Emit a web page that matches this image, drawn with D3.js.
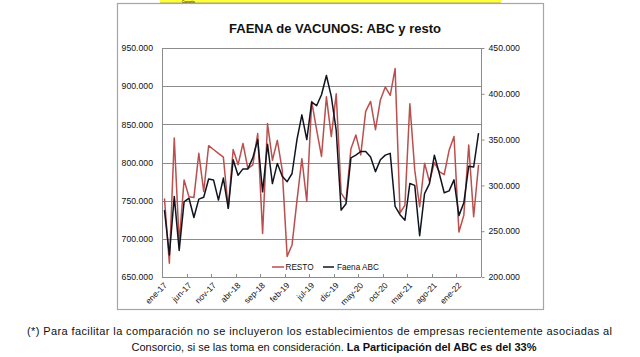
<!DOCTYPE html>
<html><head><meta charset="utf-8">
<script src="https://cdn.jsdelivr.net/npm/d3@7"></script>
<style>
html,body{margin:0;padding:0;background:#fff;}
svg{display:block;font-family:"Liberation Sans",Arial,sans-serif;}
</style></head>
<body><svg id="c" width="640" height="357"></svg>
<script>
// ---- data ----
const monthNames = ["ene","feb","mar","abr","may","jun","jul","ago","sep","oct","nov","dic"];
const startYear = 17;
const nMonths = 65; // ene-17 .. may-22
const categories = [];
for (let i = 0; i < nMonths; i++) categories.push(monthNames[i % 12] + "-" + (startYear + Math.floor(i / 12)));

// RESTO (left axis, head)
const resto = [753000,668000,832000,695000,777000,755000,754000,812000,762000,822000,
817000,812000,807000,740000,817000,797000,825000,792000,797000,838000,
707000,851000,803000,829000,790000,677000,692000,750000,805000,749000,
880000,843000,808000,886000,834000,890000,760000,750000,818000,836000,
810000,867000,880000,843000,882000,899000,888000,923000,734000,744000,
877000,790000,742000,799000,775000,800000,788000,784000,816000,834000,
709000,731000,823000,729000,797000];
// Faena ABC (right axis, head)
const abc = [273000,224000,288000,229000,282000,286000,265000,285000,287000,307000,
306000,284000,308000,275000,328000,311000,318000,318000,330000,350000,
293000,345000,302000,324000,310000,304000,313000,350000,377000,350000,
391000,387000,399000,420000,397000,360000,273000,280000,330000,333000,
337000,337000,331000,315000,328000,333000,335000,277000,268000,262000,
302000,300000,245000,291000,302000,333000,313000,292000,294000,306000,
267000,281000,321000,320000,357000];

const leftTicks = [650000,700000,750000,800000,850000,900000,950000];
const rightTicks = [200000,250000,300000,350000,400000,450000];
const title = "FAENA de VACUNOS: ABC y resto";
const seriesNames = ["RESTO","Faena ABC"];
const note1 = "(*) Para facilitar la comparación no se incluyeron los establecimientos  de empresas recientemente  asociadas al";
const note2a = "Consorcio, si se las toma en consideración. ";
const note2b = "La Participación del ABC es del 33%";

// ---- layout ----
const svg = d3.select("#c");
const fmt = v => d3.format(",")(v).replace(/,/g, ".");
const P = {l:162, r:481, t:48, b:277};
const RED = "#bb4f4d", BLK = "#10141f", GRID = "#8c8c8c";

// yellow header strip
svg.append("rect").attr("x",160).attr("y",-2).attr("width",341).attr("height",5).attr("fill","#ffff33");
svg.append("line").attr("x1",160).attr("x2",501).attr("y1",3).attr("y2",3).attr("stroke","#999").attr("stroke-width",0.8);
svg.append("text").attr("x",182).attr("y",2.6).attr("font-size",3.2).attr("font-weight","bold").attr("fill","#333").text("Consejo");

// chart box
svg.append("rect").attr("x",117.5).attr("y",3.5).attr("width",426).attr("height",306).attr("fill","none").attr("stroke","#a6a6a6").attr("stroke-width",1.2);

const x = d3.scaleBand().domain(d3.range(nMonths)).range([P.l, P.r]).paddingInner(0).paddingOuter(0);
const xc = i => x(i) + x.bandwidth()/2;
const yL = d3.scaleLinear().domain([650000,950000]).range([P.b, P.t]);
const yR = d3.scaleLinear().domain([200000,450000]).range([P.b, P.t]);

// gridlines
svg.append("g").selectAll("line").data(leftTicks).join("line")
  .attr("x1",P.l).attr("x2",P.r).attr("y1",d=>Math.round(yL(d))+0.5).attr("y2",d=>Math.round(yL(d))+0.5)
  .attr("stroke",GRID).attr("stroke-width",1);
svg.append("line").attr("x1",P.l+0.5).attr("x2",P.l+0.5).attr("y1",P.t).attr("y2",P.b).attr("stroke",GRID);
svg.append("line").attr("x1",P.r+0.5).attr("x2",P.r+0.5).attr("y1",P.t).attr("y2",P.b).attr("stroke",GRID);

// left axis labels
const axL = svg.append("g").attr("transform",`translate(${P.l},0)`)
  .call(d3.axisLeft(yL).tickValues(leftTicks).tickFormat(fmt).tickSize(0).tickPadding(9));
axL.select(".domain").remove();
axL.selectAll("text").attr("font-size",8.7).attr("font-family","Liberation Sans, Arial, sans-serif").attr("fill","#111");

// right axis
const axR = svg.append("g").attr("transform",`translate(${P.r+0.5},0)`)
  .call(d3.axisRight(yR).tickValues(rightTicks).tickFormat(fmt).tickSize(3).tickPadding(4));
axR.select(".domain").remove();
axR.selectAll("line").attr("stroke",GRID);
axR.selectAll("text").attr("font-size",8.7).attr("font-family","Liberation Sans, Arial, sans-serif").attr("fill","#111");

// x axis
const tickIdx = d3.range(0, nMonths, 5);
const axX = svg.append("g").attr("transform",`translate(0,${P.b})`);
axX.append("line").attr("x1",P.l).attr("x2",P.r).attr("y1",0.5).attr("y2",0.5).attr("stroke",GRID);
axX.selectAll("line.t").data(tickIdx).join("line").attr("class","t")
  .attr("x1",d=>Math.round(x(d))+0.5).attr("x2",d=>Math.round(x(d))+0.5).attr("y1",0).attr("y2",-3).attr("stroke",GRID);
axX.selectAll("text").data(tickIdx).join("text")
  .attr("transform",d=>`translate(${xc(d)+3},${9}) rotate(-45)`)
  .attr("text-anchor","end").attr("font-size",8.4).attr("fill","#111")
  .text(d=>categories[d]);

// lines
const lineL = d3.line().x((d,i)=>xc(i)).y(d=>yL(d));
const lineR = d3.line().x((d,i)=>xc(i)).y(d=>yR(d));
svg.append("path").datum(resto).attr("d",lineL).attr("fill","none").attr("stroke",RED).attr("stroke-width",1.5).attr("stroke-linejoin","round");
svg.append("path").datum(abc).attr("d",lineR).attr("fill","none").attr("stroke",BLK).attr("stroke-width",1.5).attr("stroke-linejoin","round");

// legend
const lg = svg.append("g").attr("transform","translate(272,267)");
lg.append("line").attr("x1",0).attr("x2",12).attr("y1",0).attr("y2",0).attr("stroke",RED).attr("stroke-width",1.5);
lg.append("text").attr("x",13.5).attr("y",3).attr("font-size",8.2).attr("fill","#111").text(seriesNames[0]);
lg.append("line").attr("x1",51).attr("x2",62).attr("y1",0).attr("y2",0).attr("stroke",BLK).attr("stroke-width",1.5);
lg.append("text").attr("x",65).attr("y",3).attr("font-size",8.2).attr("fill","#111").text(seriesNames[1]);

// title
svg.append("text").attr("x",335).attr("y",33).attr("text-anchor","middle").attr("font-size",13).attr("font-weight","bold").attr("fill","#111").text(title);

// footnote
svg.append("text").attr("x",27).attr("y",335).attr("font-size",11).attr("fill","#111")
  .attr("textLength",585).attr("lengthAdjust","spacing").text(note1);
const n2 = svg.append("text").attr("x",334).attr("y",351).attr("text-anchor","middle").attr("font-size",11).attr("fill","#111");
n2.append("tspan").text(note2a);
n2.append("tspan").attr("font-weight","bold").text(note2b);
</script></body></html>
